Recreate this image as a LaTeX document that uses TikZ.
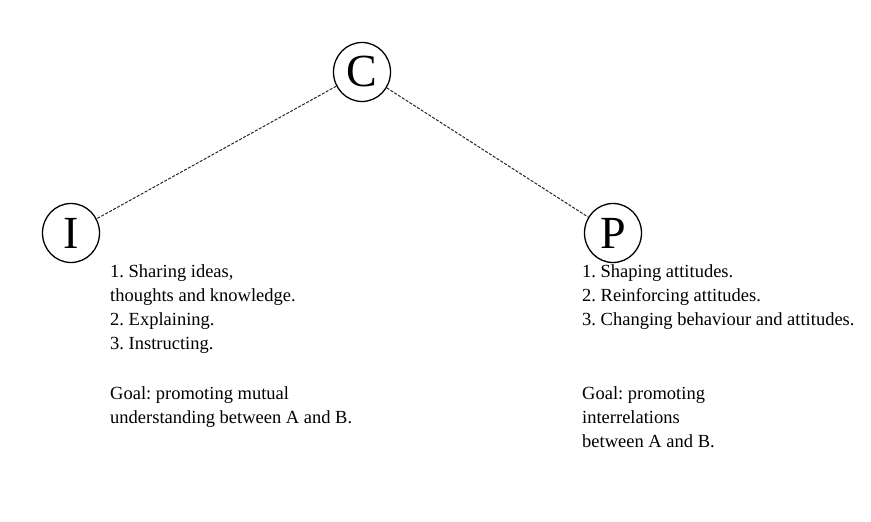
\documentclass[tikz,border=0pt]{standalone}
\usepackage{fontspec}
\setmainfont{Liberation Serif}
\usepackage{tikz}
\usetikzlibrary{shapes.geometric}
\frenchspacing

\begin{document}
\begin{tikzpicture}[x=1pt,y=1pt,
		blob/.style={draw,line width=1.3pt,ellipse,inner sep=0pt,minimum width=57pt,minimum height=59pt,font=\fontsize{46}{46}\selectfont},
		link/.style={dash pattern=on 3pt off 1.5pt,line width=1pt,black!85},
		notes/.style={anchor=north west,inner sep=0pt,align=left,font=\fontsize{18.5}{24}\selectfont}]
	\useasboundingbox (0,0) rectangle (871,522);
	% the three letters
	\node[blob] (C) at (362,450) {C};
	\node[blob] (I) at (71,289) {I};
	\node[blob] (P) at (613,289) {P};
	\draw[link] (C) -- (I);
	\draw[link] (C) -- (P);
	% lists under I and P
	\node[notes] (Itext) at (110,258) {1. Sharing ideas,\\ thoughts and knowledge.\\ 2. Explaining.\\ 3. Instructing.};
	\node[notes] (Igoal) at (110,136) {Goal: promoting mutual\\ understanding between A and B.};
	\node[notes] (Ptext) at (582,258) {1. Shaping attitudes.\\ 2. Reinforcing attitudes.\\ 3. Changing behaviour and attitudes.};
	\node[notes] (Pgoal) at (582,136) {Goal: promoting\\ interrelations\\ between A and B.};
\end{tikzpicture}
\end{document}
